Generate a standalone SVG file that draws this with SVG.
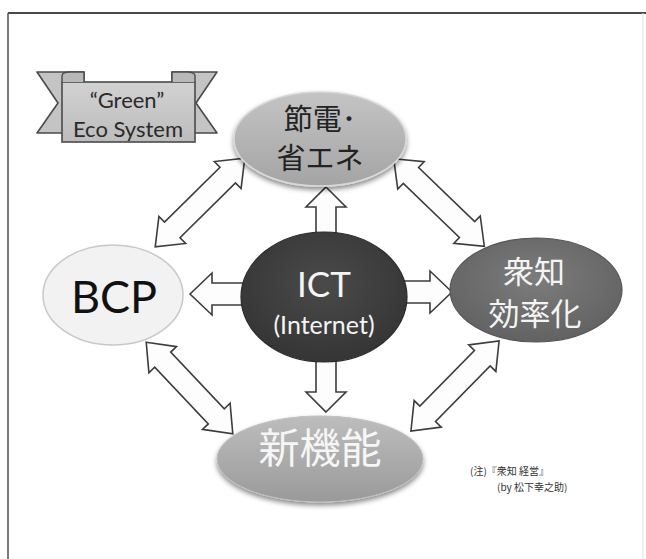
<svg xmlns="http://www.w3.org/2000/svg" width="646" height="559" viewBox="0 0 646 559">
<defs>
<style>
.arr{fill:#fdfdfd;stroke:#3c3c3c;stroke-width:1.6;stroke-linejoin:miter}
.jp{font-family:"Noto Sans CJK JP","Noto Sans CJK SC",sans-serif;text-anchor:middle}
.lt{font-family:Lato,"Liberation Sans",sans-serif;text-anchor:middle}
</style>
<linearGradient id="gTop" x1="0" y1="0" x2="0" y2="1"><stop offset="0" stop-color="#c4c4c4"/><stop offset="1" stop-color="#a4a4a4"/></linearGradient>
<linearGradient id="gBot" x1="0" y1="0" x2="0" y2="1"><stop offset="0" stop-color="#bdbdbd"/><stop offset="1" stop-color="#9a9a9a"/></linearGradient>
<linearGradient id="gBan" x1="0" y1="0" x2="0" y2="1"><stop offset="0" stop-color="#d2d2d2"/><stop offset="1" stop-color="#bcbcbc"/></linearGradient>
<radialGradient id="gICT" cx="0.5" cy="0.4" r="0.6"><stop offset="0" stop-color="#4a4a4a"/><stop offset="1" stop-color="#353535"/></radialGradient>
<radialGradient id="gShu" cx="0.5" cy="0.4" r="0.6"><stop offset="0" stop-color="#7c7c7c"/><stop offset="1" stop-color="#626262"/></radialGradient>
<filter id="sh" x="-20%" y="-20%" width="140%" height="150%"><feDropShadow dx="0" dy="3" stdDeviation="2.5" flood-color="#000" flood-opacity="0.45"/></filter>
<polygon id="dbl" points="-63,0 -39,-19 -39,-11 39,-11 39,-19 63,0 39,19 39,11 -39,11 -39,19"/>
</defs>
<rect width="646" height="559" fill="#ffffff"/>
<g id="frame" fill="none">
<line x1="8" y1="13" x2="646" y2="13" stroke="#4a4a4a" stroke-width="2"/>
<line x1="8" y1="13" x2="8" y2="559" stroke="#5a5a5a" stroke-width="1.6"/>
<line x1="643" y1="13" x2="643" y2="559" stroke="#e0e0e0" stroke-width="1"/>
</g>
<g id="connectors">
<use href="#dbl" class="arr" transform="translate(200,202.5) rotate(-44.7)"/>
<use href="#dbl" class="arr" transform="translate(439,202.5) rotate(44)"/>
<use href="#dbl" class="arr" transform="translate(189.5,388) rotate(46.6)"/>
<use href="#dbl" class="arr" transform="translate(455,386) rotate(-45.6)"/>
<polygon class="arr" points="326,187 346,207 336,207 336,240 316,240 316,207 306,207"/>
<polygon class="arr" points="326,412 346,392 336,392 336,355 316,355 316,392 306,392"/>
<polygon class="arr" points="190,294 212,273 212,283 250,283 250,305 212,305 212,315" fill="#f0f0f0"/>
<polygon class="arr" points="452,292 430,271 430,281 400,281 400,303 430,303 430,313"/>
</g>
<g id="banner">
<polygon points="37,72 84,72 84,133 37,133 58,103" fill="#c4c4c4" stroke="#4a4a4a" stroke-width="1.6" stroke-linejoin="round"/>
<polygon points="217,72 172,72 172,133 217,133 196,103" fill="#c4c4c4" stroke="#4a4a4a" stroke-width="1.6" stroke-linejoin="round"/>
<rect x="62" y="82" width="133" height="60" fill="url(#gBan)" stroke="#4a4a4a" stroke-width="1.6"/>
<path d="M62,82 L62,76 Q62,72 70,72 L84,72 L84,82" fill="#b8b8b8" stroke="#4a4a4a" stroke-width="1.4"/>
<path d="M195,82 L195,76 Q195,72 187,72 L172,72 L172,82" fill="#b8b8b8" stroke="#4a4a4a" stroke-width="1.4"/>
<text class="lt" x="127" y="108" font-size="22" fill="#2a2a2a">“Green”</text>
<text class="lt" x="128" y="137" font-size="22" fill="#2a2a2a">Eco System</text>
</g>
<g id="node-setsuden">
<ellipse cx="320" cy="139" rx="86" ry="47" fill="url(#gTop)" stroke="#d8d8d8" stroke-width="1.5" filter="url(#sh)"/>
<text class="jp" x="320" y="130" font-size="29" fill="#222">節電･</text>
<text class="jp" x="320" y="169" font-size="29" fill="#222">省エネ</text>
</g>
<g id="node-bcp">
<ellipse cx="113" cy="295" rx="70" ry="50" fill="#f2f2f2" stroke="#c8c8c8" stroke-width="1.5"/>
<text class="lt" x="114" y="313" font-size="45" fill="#111">BCP</text>
</g>
<g id="node-ict">
<ellipse cx="324" cy="297" rx="83" ry="65" fill="url(#gICT)" stroke="#2a2a2a" stroke-width="1.2"/>
<text class="lt" x="324" y="297" font-size="35" fill="#f4f4f4">ICT</text>
<text class="lt" x="324" y="334" font-size="25" fill="#f4f4f4">(Internet)</text>
</g>
<g id="node-shuchi">
<ellipse cx="536" cy="290" rx="86" ry="52" fill="url(#gShu)" stroke="#555" stroke-width="1.2"/>
<text class="jp" x="534" y="283" font-size="31" fill="#f4f4f4">衆知</text>
<text class="jp" x="535" y="325" font-size="31" fill="#f4f4f4">効率化</text>
</g>
<g id="node-shinkino">
<ellipse cx="320" cy="459" rx="103" ry="43" fill="url(#gBot)" stroke="#c0c0c0" stroke-width="1" filter="url(#sh)"/>
<text class="jp" x="320" y="463" font-size="41" fill="#f6f6f6">新機能</text>
</g>
<g id="note">
<text x="470" y="475" font-size="10" font-family="Noto Sans CJK JP, sans-serif" fill="#333">(注)『衆知 経営』</text>
<text x="497" y="491" font-size="10" font-family="Noto Sans CJK JP, sans-serif" fill="#333">(by 松下幸之助)</text>
</g>
</svg>
